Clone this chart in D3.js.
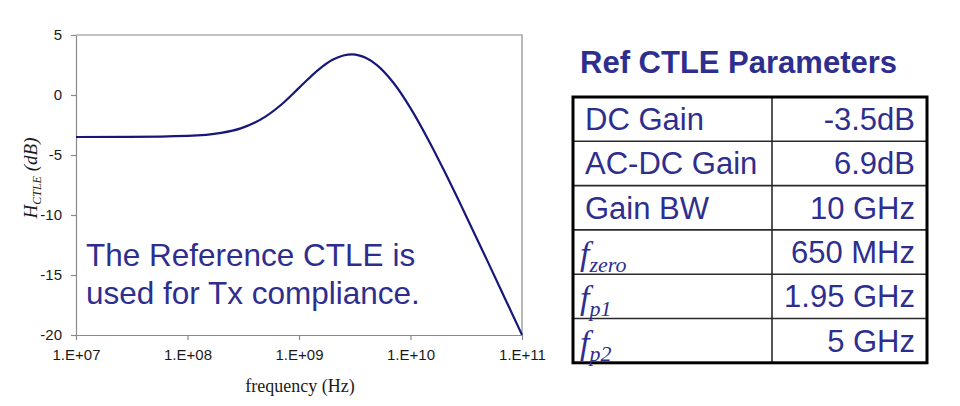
<!DOCTYPE html>
<html>
<head>
<meta charset="utf-8">
<script src="https://cdn.jsdelivr.net/npm/d3@7/dist/d3.min.js"></script>
<style>
  html, body { margin: 0; padding: 0; background: #fff; }
  svg { display: block; }
</style>
</head>
<body>
<svg id="chart" width="960" height="406"></svg>
<script>
// ---- data ----
const freqHz = [1e7, 3e7, 1e8, 2e8, 3e8, 5e8, 7e8, 1e9, 1.5e9, 2e9, 2.5e9, 3e9, 3.5e9, 4e9, 5e9, 7e9, 1e10, 1.5e10, 2e10, 3e10, 5e10, 7e10, 1e11];
const gainDb = [-3.5, -3.49, -3.41, -3.16, -2.78, -1.80, -0.77, 0.59, 2.12, 2.93, 3.29, 3.38, 3.28, 3.08, 2.49, 1.04, -1.09, -4.02, -6.30, -9.66, -14.01, -16.91, -19.99];
const xTicks = [1e7, 1e8, 1e9, 1e10, 1e11];
const yTicks = [-20, -15, -10, -5, 0, 5];
const paramNames = ["DC Gain", "AC-DC Gain", "Gain BW", "f_zero", "f_p1", "f_p2"];
const paramValues = ["-3.5dB", "6.9dB", "10 GHz", "650 MHz", "1.95 GHz", "5 GHz"];
const noteLines = ["The Reference CTLE is", "used for Tx compliance."];
const tableTitle = "Ref CTLE Parameters";

// ---- layout ----
const svg = d3.select("#chart");
const plot = { left: 76, right: 522, top: 35, bottom: 335 };
const blue = "#2e2e8e";
const lineBlue = "#17177a";
const axisGray = "#8a8a8a";

const x = d3.scaleLog().domain([1e7, 1e11]).range([plot.left, plot.right]);
const y = d3.scaleLinear().domain([-20, 5]).range([plot.bottom, plot.top]);

// plot frame (top & right)
svg.append("path")
  .attr("d", `M${plot.left},${plot.top}H${plot.right}V${plot.bottom}`)
  .attr("fill", "none").attr("stroke", axisGray).attr("stroke-width", 1.2);

const fmtExp = d => "1.E+" + String(Math.round(Math.log10(d))).padStart(2, "0");
const fmtY = d => String(d);

const xAxis = svg.append("g")
  .attr("transform", `translate(0,${plot.bottom})`)
  .call(d3.axisBottom(x).tickValues(xTicks).tickFormat(fmtExp).tickSize(5).tickSizeOuter(0).tickPadding(9));
const yAxis = svg.append("g")
  .attr("transform", `translate(${plot.left},0)`)
  .call(d3.axisLeft(y).tickValues(yTicks).tickFormat(fmtY).tickSize(5).tickSizeOuter(0).tickPadding(9));

[xAxis, yAxis].forEach(g => {
  g.select(".domain").attr("stroke", axisGray).attr("stroke-width", 1.2);
  g.selectAll(".tick line").attr("stroke", axisGray).attr("stroke-width", 1.2);
  g.selectAll(".tick text")
    .attr("fill", "#1a1a1a")
    .style("font-family", "'Liberation Sans', Arial, sans-serif")
    .style("font-size", "15px");
});

// curve
const line = d3.line()
  .x(d => x(d[0])).y(d => y(d[1]))
  .curve(d3.curveMonotoneX);
svg.append("path")
  .datum(freqHz.map((f, i) => [f, gainDb[i]]))
  .attr("d", line)
  .attr("fill", "none")
  .attr("stroke", lineBlue)
  .attr("stroke-width", 2.2);

// axis titles
svg.append("text")
  .attr("x", (plot.left + plot.right) / 2 + 1).attr("y", 392)
  .attr("text-anchor", "middle")
  .style("font-family", "'Liberation Serif', 'Times New Roman', serif")
  .style("font-size", "18px")
  .attr("fill", "#1a1a1a")
  .text("frequency (Hz)");

const yt = svg.append("text")
  .attr("transform", "translate(37,178) rotate(-90)")
  .attr("text-anchor", "middle")
  .style("font-family", "'Liberation Serif', 'Times New Roman', serif")
  .style("font-style", "italic")
  .style("font-size", "19px")
  .attr("fill", "#1a1a1a");
yt.append("tspan").text("H");
yt.append("tspan").attr("dy", 4).style("font-size", "12px").text("CTLE");
yt.append("tspan").attr("dy", -4).text(" (dB)");

// annotation
svg.append("g").selectAll("text").data(noteLines).join("text")
  .attr("x", 86).attr("y", (d, i) => 266 + i * 38)
  .style("font-family", "'Liberation Sans', Arial, sans-serif")
  .style("font-size", "31.5px")
  .attr("fill", blue)
  .text(d => d);

// ---- table ----
const tbl = { left: 573, right: 927, top: 97, mid: 772, rowH: 44.3 };
const rowY = d3.scaleLinear().domain([0, paramNames.length]).range([tbl.top, tbl.top + tbl.rowH * paramNames.length]);

svg.append("text")
  .attr("x", 580).attr("y", 73)
  .style("font-family", "'Liberation Sans', Arial, sans-serif")
  .style("font-weight", "bold")
  .style("font-size", "31px")
  .attr("fill", blue)
  .text(tableTitle);

const tg = svg.append("g");
// inner row lines
tg.selectAll("line.row").data(d3.range(1, paramNames.length)).join("line")
  .attr("class", "row")
  .attr("x1", tbl.left).attr("x2", tbl.right)
  .attr("y1", d => rowY(d)).attr("y2", d => rowY(d))
  .attr("stroke", "#2a2a2a").attr("stroke-width", 1.6);
tg.append("line")
  .attr("x1", tbl.mid).attr("x2", tbl.mid)
  .attr("y1", tbl.top).attr("y2", rowY(paramNames.length))
  .attr("stroke", "#2a2a2a").attr("stroke-width", 1.6);
tg.append("rect")
  .attr("x", tbl.left).attr("y", tbl.top)
  .attr("width", tbl.right - tbl.left).attr("height", rowY(paramNames.length) - tbl.top)
  .attr("fill", "none").attr("stroke", "#000").attr("stroke-width", 3);

// names
paramNames.forEach((name, i) => {
  const base = rowY(i) + 33;
  if (name.startsWith("f_")) {
    const t = tg.append("text")
      .attr("x", 580).attr("y", base + 2)
      .style("font-family", "'Liberation Serif', 'Times New Roman', serif")
      .style("font-style", "italic")
      .attr("fill", blue);
    t.append("tspan").style("font-size", "34px").text("f");
    t.append("tspan").attr("dy", 7).style("font-size", "22px").text(name.slice(2));
  } else {
    tg.append("text")
      .attr("x", 585).attr("y", base)
      .style("font-family", "'Liberation Sans', Arial, sans-serif")
      .style("font-size", "31px")
      .attr("fill", blue)
      .text(name);
  }
  tg.append("text")
    .attr("x", 915).attr("y", base)
    .attr("text-anchor", "end")
    .style("font-family", "'Liberation Sans', Arial, sans-serif")
    .style("font-size", "31px")
    .attr("fill", blue)
    .text(paramValues[i]);
});
</script>
</body>
</html>
